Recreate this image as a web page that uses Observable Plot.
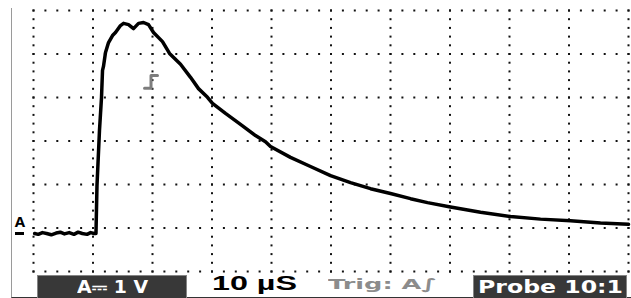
<!DOCTYPE html>
<html><head><meta charset="utf-8">
<script src="https://cdn.jsdelivr.net/npm/d3@7"></script>
<script src="https://cdn.jsdelivr.net/npm/@observablehq/plot@0.6"></script>
<style>
html,body{margin:0;padding:0;background:#fff;}
#wrap{position:relative;width:631px;height:298px;overflow:hidden;font-family:"DejaVu Sans",sans-serif;}
#chart{position:absolute;left:0;top:0;}
#frame{position:absolute;left:11px;top:8px;width:620px;height:289px;border-left:1px solid #9a9a9a;border-bottom:1px solid #333;pointer-events:none;}
#bar{position:absolute;left:0;top:275px;width:631px;height:23px;}
.box{position:absolute;top:0;height:23px;background:#383838;border:1px solid #858585;border-bottom:none;box-sizing:border-box;}
.lbl{position:absolute;display:inline-block;white-space:pre;line-height:1;transform-origin:0 0;font-weight:bold;}
</style></head>
<body>
<div id="wrap">
  <div id="chart"></div>
  <div id="frame"></div>
  <div id="bar">
    <div class="box" style="left:37px;width:150px;"></div>
    <div class="box" style="left:473px;width:154px;"></div>
    <span class="lbl" id="lA" style="left:77px;top:3.5px;font-size:17px;color:#fff;"></span>
    <span class="lbl" id="lT" style="left:212px;top:-1px;font-size:19.5px;color:#000;font-family:'Liberation Sans',Arial,sans-serif;"></span>
    <span class="lbl" id="lG" style="left:328px;top:2px;font-size:14.5px;color:#8c8c8c;"></span>
    <span class="lbl" id="lP" style="left:478px;top:3.5px;font-size:17px;color:#fff;"></span>
  </div>
</div>
<script>
// ---- data ----
const timeUs = [0.2,0.8,1.5,2.2,3.0,3.8,4.5,5.2,6.0,6.8,7.5,8.2,9.0,9.6,10.2,
  10.50,10.67,11.09,11.43,11.60,11.76,12.10,12.61,13.28,13.78,14.62,15.13,15.97,16.81,17.65,18.49,19.33,20.17,
  21.68,22.86,24.71,26.39,27.73,29.24,30.08,32.27,34.79,37.31,38.99,39.83,43.19,46.55,49.92,53.28,56.64,
  60.0,63.36,66.22,70.08,75.13,80.17,85.21,90.25,95.29,100];
const volts = [0,-0.02,0.02,0,-0.03,0.01,0.03,-0.01,0.02,-0.02,0.03,0,-0.02,0.02,0,
  0,1.10,2.37,3.13,3.75,3.84,4.16,4.39,4.55,4.62,4.78,4.83,4.80,4.71,4.83,4.85,4.80,4.62,
  4.41,4.14,3.89,3.59,3.33,3.13,2.99,2.76,2.51,2.25,2.11,2.00,1.75,1.54,1.33,1.17,1.03,
  0.92,0.80,0.71,0.61,0.49,0.39,0.33,0.29,0.24,0.21];
const triggerT = [18.66,19.75,19.75,20.84];
const triggerV = [3.34,3.34,3.63,3.63];
const groundLabel = "A";
const groundMarkT = [-3.03,-1.51];
const zeroDiv = 0.874;            // ground level, divisions above bottom graticule line
const xDivTicks = d3.range(0, 101, 10);   // 10 µs / div
const yDivTicks = d3.range(0, 7);         // 1 V / div
const xSubTicks = d3.range(0, 100.01, 2);
const ySubTicks = d3.range(0, 6.001, 0.2);
const labelA = "A\u2393 1 V";
const labelTime = "10 \u00b5S";
const labelTrig = "Trig: A\u222b";
const labelProbe = "Probe 10:1";

const trace = timeUs.map((t,i)=>({t, v: volts[i]}));
const trig = triggerT.map((t,i)=>({t, v: triggerV[i]}));
const grid = [];
for (const yd of yDivTicks) for (const xs of xSubTicks) grid.push({t: xs, v: yd - zeroDiv});
for (const xd of xDivTicks) for (const ys of ySubTicks) grid.push({t: xd, v: ys - zeroDiv});

const chart = Plot.plot({
  width: 631, height: 275,
  marginLeft: 33, marginRight: 3, marginTop: 10, marginBottom: 4,
  x: {domain: [0, 100], axis: null},
  y: {domain: [-zeroDiv, 6 - zeroDiv], axis: null},
  style: {background: "transparent", overflow: "visible"},
  marks: [
    Plot.dot(grid, {x: "t", y: "v", symbol: "square", r: 1.13, fill: "#111", stroke: null}),
    Plot.line(trig, {x: "t", y: "v", stroke: "#7d7d7d", strokeWidth: 3, curve: "linear"}),
    Plot.line(trace, {x: "t", y: "v", stroke: "#000", strokeWidth: 3.5, strokeLinejoin: "round"}),
    Plot.text([0], {y: d => d, frameAnchor: "left", text: () => groundLabel, dx: -13.5, dy: -11,
      fontSize: 15, fontWeight: "bold", textAnchor: "middle", fill: "#000"}),
    Plot.ruleY([0], {x1: groundMarkT[0], x2: groundMarkT[1], stroke: "#000", strokeWidth: 3})
  ]
});
document.getElementById("chart").appendChild(chart);

function fit(id, text, x0, x1){
  const el = document.getElementById(id);
  el.textContent = text;
  const w = el.getBoundingClientRect().width;
  el.style.transform = `scaleX(${(x1 - x0) / w})`;
}
fit("lA", labelA, 77, 148);
fit("lT", labelTime, 212, 297);
fit("lG", labelTrig, 328, 437);
fit("lP", labelProbe, 478, 623);
</script>
</body></html>
